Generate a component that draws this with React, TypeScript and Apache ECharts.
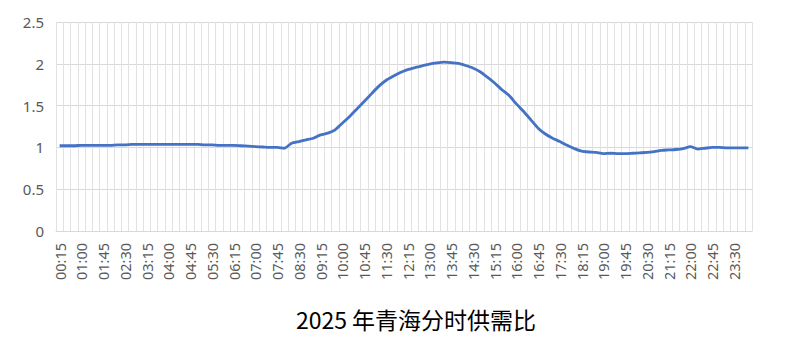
import React, { useEffect, useRef } from "react";
import * as echarts from "echarts";

const hours: string[] = [];
for (let m = 15; m <= 24 * 60; m += 15) {
  const h = Math.floor(m / 60);
  const mm = m % 60;
  hours.push(`${String(h).padStart(2, "0")}:${String(mm).padStart(2, "0")}`);
}
const categories = hours;

const ratio = [
  1.02, 1.02, 1.02, 1.025, 1.025, 1.025, 1.025, 1.025, 1.03, 1.03,
  1.035, 1.035, 1.035, 1.035, 1.035, 1.035, 1.035, 1.035, 1.035, 1.035,
  1.03, 1.03, 1.025, 1.025, 1.025, 1.02, 1.015, 1.01, 1.005, 1.0,
  1.0, 0.99, 1.05, 1.07, 1.09, 1.11, 1.15, 1.17, 1.21, 1.29,
  1.37, 1.46, 1.55, 1.64, 1.73, 1.8, 1.85, 1.895, 1.93, 1.955,
  1.975, 1.995, 2.01, 2.02, 2.015, 2.005, 1.98, 1.95, 1.905, 1.84,
  1.77, 1.69, 1.62, 1.52, 1.43, 1.33, 1.23, 1.16, 1.11, 1.07,
  1.025, 0.985, 0.955, 0.945, 0.94, 0.925, 0.93, 0.925, 0.925, 0.93,
  0.935, 0.94, 0.95, 0.965, 0.97, 0.975, 0.985, 1.01, 0.98, 0.99,
  1.0, 1.0, 0.995, 0.995, 0.995, 0.995,
];

const yTicks = [0, 0.5, 1, 1.5, 2, 2.5];
const titleText = "2025 年青海分时供需比";

export default function App() {
  const ref = useRef<HTMLDivElement>(null);
  useEffect(() => {
    if (!ref.current) return;
    const chart = echarts.init(ref.current, undefined, { renderer: "svg" });
    chart.setOption({
      animation: false,
      backgroundColor: "#ffffff",
      grid: { left: 56, right: 34, top: 22, bottom: 109, containLabel: false },
      xAxis: {
        type: "category",
        data: categories,
        boundaryGap: true,
        axisLine: { show: true, lineStyle: { color: "#d9d9d9", width: 1 } },
        axisTick: { show: false },
        axisLabel: {
          interval: 2,
          rotate: 90,
          margin: 12,
          color: "#595959",
          fontSize: 14.5,
          fontFamily: "Noto Sans",
        },
        splitLine: { show: true, interval: 0, lineStyle: { color: "#e2e2e2", width: 1 } },
      },
      yAxis: {
        type: "value",
        min: yTicks[0],
        max: yTicks[yTicks.length - 1],
        interval: 0.5,
        axisLine: { show: false },
        axisTick: { show: false },
        axisLabel: {
          margin: 12,
          color: "#595959",
          fontSize: 15,
          fontFamily: "Noto Sans",
        },
        splitLine: { show: true, lineStyle: { color: "#d9d9d9", width: 1 } },
      },
      series: [
        {
          type: "line",
          data: ratio,
          symbol: "none",
          smooth: 0.2,
          lineStyle: { color: "#4472C4", width: 2.8 },
        },
      ],
      graphic: [
        {
          type: "text",
          x: 416,
          y: 319,
          style: {
            text: titleText,
            fill: "#000000",
            fontSize: 23,
            fontFamily: "Noto Sans CJK SC",
            textAlign: "center",
            textVerticalAlign: "middle",
          },
        },
      ],
    });
    return () => chart.dispose();
  }, []);
  return (
    <div
      ref={ref}
      style={{ position: "fixed", left: 0, top: 0, width: 786, height: 340 }}
    />
  );
}
